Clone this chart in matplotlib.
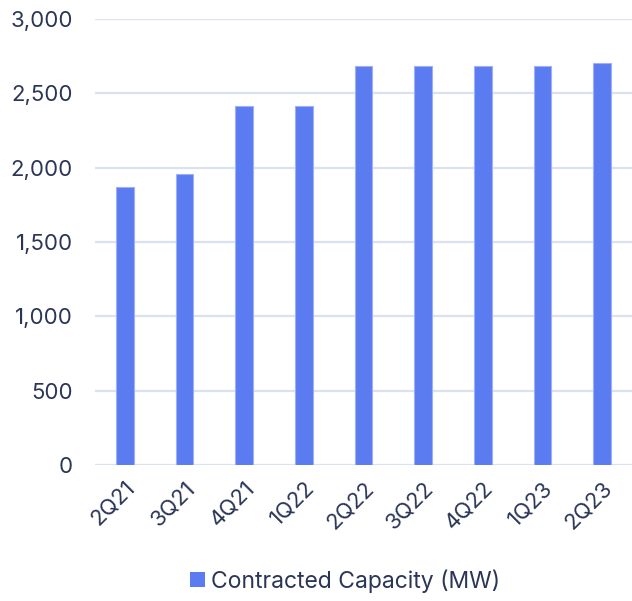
import numpy as np
import matplotlib.pyplot as plt
from matplotlib.patches import Patch

plt.rcParams['font.family'] = ['Inter', 'DejaVu Sans']

# Data.
quarters = ['2Q21', '3Q21', '4Q21', '1Q22', '2Q22', '3Q22', '4Q22', '1Q23', '2Q23']
capacity = [1868, 1960, 2413, 2413, 2682, 2682, 2682, 2682, 2702]
yticks = [0, 500, 1000, 1500, 2000, 2500, 3000]

text_col = '#2b3656'
bar_col = '#5b7bf0'
grid_col = '#dbe2ef'

fig = plt.figure(figsize=(6.32, 6.01), dpi=100)
ax = fig.add_axes([95 / 632, 1 - 465 / 601, 1 - 95 / 632, 446 / 601])

x = np.arange(len(quarters))
ax.bar(x, capacity, width=0.3, color=bar_col, edgecolor='#9fb1f6',
       linewidth=0.8, zorder=3)

ax.set_xlim(-0.5, len(quarters) - 0.5)
ax.set_ylim(0, 3000)
ax.set_yticks(yticks)
ax.set_yticklabels([f'{v:,}' for v in yticks])
ax.yaxis.grid(True, color=grid_col, linewidth=1.6, zorder=0)
ax.set_axisbelow(True)
for s in ax.spines.values():
    s.set_visible(False)

ax.set_xticks(x)
ax.set_xticklabels(quarters, rotation=45, ha='right', rotation_mode='anchor')
ax.tick_params(axis='y', length=0, pad=16, labelsize=16, labelcolor=text_col)
ax.tick_params(axis='x', length=0, pad=9, labelsize=16, labelcolor=text_col)

handle = Patch(facecolor=bar_col, edgecolor='none')
fig.legend([handle], ['Contracted Capacity (MW)'], loc='center',
           bbox_to_anchor=(345 / 632, 1 - 581 / 601), frameon=False,
           fontsize=16.5, labelcolor=text_col, handlelength=0.65,
           handleheight=0.65, handletextpad=0.25)

fig.savefig('out.png', dpi=100)
